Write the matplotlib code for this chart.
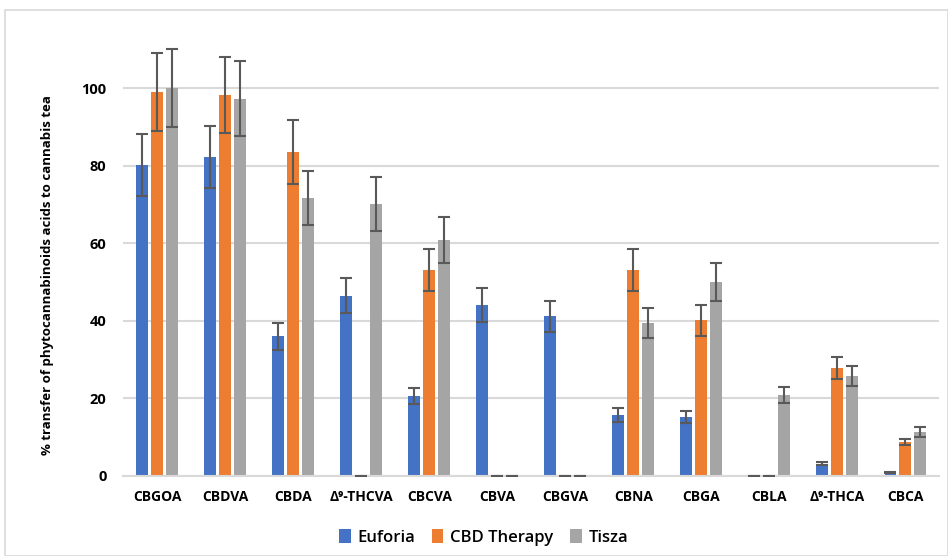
import numpy as np
import matplotlib.pyplot as plt
from matplotlib.patches import Rectangle

plt.rcParams['font.family'] = ['Open Sans', 'DejaVu Sans']

categories = ['CBGOA', 'CBDVA', 'CBDA', 'Δ⁹-THCVA', 'CBCVA', 'CBVA',
              'CBGVA', 'CBNA', 'CBGA', 'CBLA', 'Δ⁹-THCA', 'CBCA']
series_names = ['Euforia', 'CBD Therapy', 'Tisza']

euforia = [80.2, 82.3, 36.0, 46.5, 20.6, 44.1, 41.2, 15.7, 15.2, 0.0, 3.2, 0.8]
euforia_err = [8.0, 8.0, 3.5, 4.5, 2.1, 4.3, 4.0, 1.7, 1.5, 0.0, 0.3, 0.1]
cbd_therapy = [99.0, 98.3, 83.5, 0.0, 53.1, 0.0, 0.0, 53.1, 40.2, 0.0, 27.8, 8.8]
cbd_therapy_err = [10.0, 9.8, 8.3, 0.0, 5.3, 0.0, 0.0, 5.4, 4.0, 0.0, 2.8, 0.8]
tisza = [100.0, 97.3, 71.6, 70.2, 60.8, 0.0, 0.0, 39.4, 50.0, 20.9, 25.8, 11.3]
tisza_err = [10.0, 9.7, 7.0, 7.0, 6.0, 0.0, 0.0, 3.8, 4.8, 2.0, 2.5, 1.2]

colors = ['#4472C4', '#ED7D31', '#A5A5A5']

fig = plt.figure(figsize=(9.48, 5.56), dpi=100)
# light outer frame like the Excel chart area
fig.patches.append(Rectangle((0.005, 0.0), 0.995, 0.982, transform=fig.transFigure,
                             fill=False, edgecolor='#D9D9D9', linewidth=1.2))
ax = fig.add_axes([0.13, 0.144, 0.861, 0.802])

x = np.arange(len(categories))
width = 0.176
offset = 0.22
data = [(euforia, euforia_err), (cbd_therapy, cbd_therapy_err), (tisza, tisza_err)]
for i, (vals, errs) in enumerate(data):
    pos = x + (i - 1) * offset
    ax.bar(pos, vals, width, color=colors[i], label=series_names[i], zorder=2)
    ax.errorbar(pos, vals, yerr=errs, fmt='none', ecolor='#595959',
                elinewidth=1.5, capsize=4, capthick=1.5, zorder=3)

ax.set_xlim(-0.5, len(categories) - 0.5)
ax.set_ylim(0, 115)
ax.set_yticks(range(0, 101, 20))
ax.set_xticks(x)
ax.set_xticklabels(categories, fontweight='bold', fontsize=10)
for lab in ax.get_yticklabels():
    lab.set_fontweight('bold')
    lab.set_fontsize(10.5)
ax.tick_params(length=0, pad=12)
ax.tick_params(axis='x', pad=10)
ax.grid(axis='y', color='#D9D9D9', linewidth=1.5, zorder=0)
for s in ['top', 'right', 'left']:
    ax.spines[s].set_visible(False)
ax.spines['bottom'].set_color('#D9D9D9')
ax.spines['bottom'].set_linewidth(1.5)

fig.text(0.05, 0.505, '% transfer of phytocannabinoids acids to cannabis tea',
         rotation=90, ha='center', va='center', fontweight='bold', fontsize=9.5)

fig.legend(loc='center', bbox_to_anchor=(0.51, 0.033), ncol=3, frameon=False,
           prop={'size': 12, 'weight': 'semibold'}, handlelength=0.7,
           handleheight=0.9, columnspacing=1.0, handletextpad=0.4)

fig.savefig('out.png', dpi=100)
